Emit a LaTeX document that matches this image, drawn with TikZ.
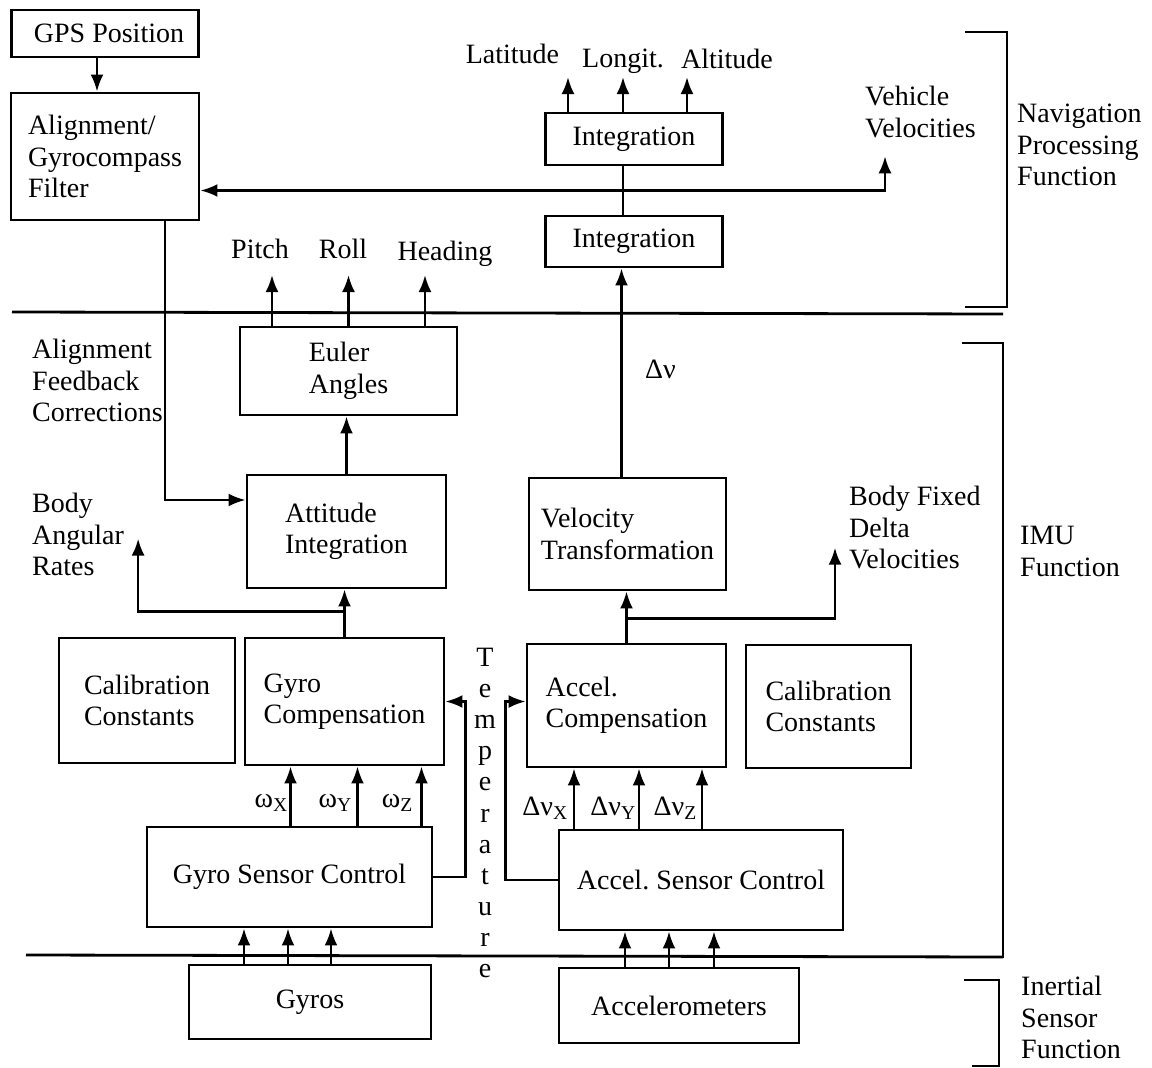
\documentclass[tikz,border=0pt]{standalone}
\usepackage{fontspec}
\setmainfont{Liberation Serif}
\frenchspacing
\usetikzlibrary{arrows.meta,calc}
\tikzset{box/.style={draw, rectangle, line width=2.8pt, inner sep=0pt, align=left}}
\tikzset{line/.style={draw, line width=2.6pt, -{Latex[length=17pt,width=13pt]}}}
\tikzset{wire/.style={draw, line width=2.6pt}}
\tikzset{sig/.style={inner sep=0pt, align=left}}
\tikzset{divider/.style={draw, line width=2.8pt}}
\tikzset{bracket/.style={draw, line width=2.8pt}}

\begin{document}
\begin{tikzpicture}[x=1pt, y=-1pt, font=\fontsize{28}{31.5}\selectfont]
\useasboundingbox (0,0) rectangle (1152,1068);

\node [box, minimum width=187pt, minimum height=47pt] (gps) at (105,33.5) {\hspace*{8pt}GPS Position};
\node [box, minimum width=188pt, minimum height=127pt] (align) at (105,156.5) {Alignment/\\Gyrocompass\\Filter};
\node [box, minimum width=177pt, minimum height=52pt] (integ2) at (634,139) {Integration};
\node [box, minimum width=177pt, minimum height=51pt] (integ1) at (634,241.5) {Integration};
\node [box, minimum width=217pt, minimum height=88pt] (euler) at (348.5,371) {Euler\\Angles};
\node [box, minimum width=199pt, minimum height=113pt] (attint) at (346.5,531.5) {Attitude\\Integration};
\node [box, minimum width=197pt, minimum height=112pt] (veltr) at (627.5,534) {Velocity\\Transformation};
\node [box, minimum width=176pt, minimum height=125pt] (calgyro) at (147,700.5) {Calibration\\Constants};
\node [box, minimum width=199pt, minimum height=127pt] (gyrocomp) at (344.5,701.5) {Gyro\\Compensation};
\node [box, minimum width=199pt, minimum height=123pt] (accelcomp) at (626.5,705.5) {Accel.\\Compensation};
\node [box, minimum width=165pt, minimum height=123pt] (calaccel) at (828.5,706.5) {Calibration\\Constants};
\node [box, minimum width=285pt, minimum height=100pt] (gyrosc) at (289.5,877) {Gyro Sensor Control};
\node [box, minimum width=284pt, minimum height=100pt] (accelsc) at (701,880) {Accel. Sensor Control};
\node [box, minimum width=242pt, minimum height=74pt] (gyros) at (310,1002) {Gyros};
\node [box, minimum width=240pt, minimum height=75pt] (accels) at (679,1005.5) {Accelerometers};

%SIGNAL LABELS
\node [sig, anchor=base] (lat) at (512.5,63) {Latitude};
\node [sig, anchor=base] (lon) at (623,67) {Longit.};
\node [sig, anchor=base] (alt) at (727,68) {Altitude};
\node [sig, anchor=north west] (vv) at (865,86) {Vehicle\\Velocities};
\node [sig, anchor=base] (pitch) at (260,258) {Pitch};
\node [sig, anchor=base] (roll) at (343,258) {Roll};
\node [sig, anchor=base] (head) at (445,260) {Heading};
\node [sig, anchor=north west] (afc) at (32,339) {Alignment\\Feedback\\Corrections};
\node [sig, anchor=base west] (dv) at (645,378) {Δν};
\node [sig, anchor=north west] (bar) at (32,493) {Body\\Angular\\Rates};
\node [sig, anchor=north west] (bfd) at (849,486) {Body Fixed\\Delta\\Velocities};
\node [sig, anchor=base east] (wx) at (288,807) {ω\textsubscript{X}};
\node [sig, anchor=base east] (wy) at (352,807) {ω\textsubscript{Y}};
\node [sig, anchor=base east] (wz) at (413,807) {ω\textsubscript{Z}};
\node [sig, anchor=base east] (dvx) at (568,815) {Δν\textsubscript{X}};
\node [sig, anchor=base east] (dvy) at (636,815) {Δν\textsubscript{Y}};
\node [sig, anchor=base east] (dvz) at (697,815) {Δν\textsubscript{Z}};
\node [sig, align=center, anchor=north, font=\fontsize{28}{31.1}\selectfont] (temp) at (485,648) {T\\e\\m\\p\\e\\r\\a\\t\\u\\r\\e};

%FUNCTION LABELS
\node [sig, anchor=north west] (navfn) at (1017,104) {Navigation\\Processing\\Function};
\node [sig, anchor=north west] (imufn) at (1020,526) {IMU\\Function};
\node [sig, anchor=north west] (isfn) at (1021,976) {Inertial\\Sensor\\Function};

%DIVIDERS AND BRACKETS
\draw [divider] (12,312) -- (1003,314);
\draw [divider] (26,955) -- (1003,957);
\draw [bracket] (965,32) -- (1007,32) -- (1007,307) -- (965,307);
\draw [bracket] (962,343) -- (1003,343) -- (1003,957) -- (962,957);
\draw [bracket] (964,980) -- (999,980) -- (999,1066) -- (972,1066);

%ALIGNMENT
\path [line] ($(gps.south)+(-8,0)$) -- ($(align.north)+(-8,0)$);
\path [line] ($(align.south)+(60,0)$) |- ($(attint.west)+(0,-31.5)$);

%NAVIGATION
\path [wire] ($(integ1.north)+(-11,0)$) -- ($(integ2.south)+(-11,0)$);
\coordinate (vel) at ($(integ1.north)!0.5!(integ2.south)+(-11,0)$);
\path [line] (vel) -- (vel -| align.east);
\path [line] (vel) -| ($(vv.south west)+(20,18.5)$);
\path [line] ($(integ2.north)+(-66,0)$) -- ($(integ2.north |- lat.base)+(-66,14)$);
\path [line] ($(integ2.north)+(-11,0)$) -- ($(integ2.north |- lon.base)+(-11,10)$);
\path [line] ($(integ2.north)+(53,0)$) -- ($(integ2.north |- alt.base)+(53,9)$);
\path [line] ($(veltr.north)+(-6,0)$) -- ($(veltr.north |- integ1.south)+(-6,0)$);

%ATTITUDE
\path [line] ($(euler.north)+(-76.5,0)$) -- ($(euler.north |- pitch.base)+(-76.5,17)$);
\path [line] (euler.north) -- ($(euler.north |- roll.base)+(0,17)$);
\path [line] ($(euler.north)+(76.5,0)$) -- ($(euler.north |- head.base)+(76.5,15)$);
\path [line] (attint.north) -- (attint.north |- euler.south);

%COMPENSATION OUTPUTS
\path [line] (gyrocomp.north) -- (gyrocomp.north |- attint.south);
\coordinate (gyroout) at ($(gyrocomp.north)+(0,-25)$);
\path [line] (gyroout) -| ($(bar.east)+(14,4)$);
\path [line] (accelcomp.north) -- (accelcomp.north |- veltr.south);
\coordinate (accelout) at ($(accelcomp.north)+(0,-24)$);
\path [line] (accelout) -| ($(bfd.west)+(-14,20)$);

%SENSOR CONTROL TO COMPENSATION
\path [line] ($(gyrosc.north)+(1,0)$) -- ($(gyrosc.north |- gyrocomp.south)+(1,0)$);
\path [line] ($(gyrosc.north)+(68,0)$) -- ($(gyrosc.north |- gyrocomp.south)+(68,0)$);
\path [line] ($(gyrosc.north)+(132,0)$) -- ($(gyrosc.north |- gyrocomp.south)+(132,0)$);
\path [line] ($(accelsc.north)+(-127,0)$) -- ($(accelsc.north |- accelcomp.south)+(-127,0)$);
\path [line] ($(accelsc.north)+(-62,0)$) -- ($(accelsc.north |- accelcomp.south)+(-62,0)$);
\path [line] ($(accelsc.north)+(1,0)$) -- ($(accelsc.north |- accelcomp.south)+(1,0)$);

%TEMPERATURE
\path [line] (gyrosc.east) -- ++(32,0) |- (gyrocomp.east);
\path [line] (accelsc.west) -- ++(-52,0) |- ($(accelcomp.west)+(0,-4)$);

%SENSORS TO SENSOR CONTROL
\path [line] ($(gyros.north)+(-66,0)$) -- ($(gyros.north |- gyrosc.south)+(-66,0)$);
\path [line] ($(gyros.north)+(-22,0)$) -- ($(gyros.north |- gyrosc.south)+(-22,0)$);
\path [line] ($(gyros.north)+(21,0)$) -- ($(gyros.north |- gyrosc.south)+(21,0)$);
\path [line] ($(accels.north)+(-54,0)$) -- ($(accels.north |- accelsc.south)+(-54,0)$);
\path [line] ($(accels.north)+(-10,0)$) -- ($(accels.north |- accelsc.south)+(-10,0)$);
\path [line] ($(accels.north)+(35,0)$) -- ($(accels.north |- accelsc.south)+(35,0)$);

\end{tikzpicture}
\end{document}
